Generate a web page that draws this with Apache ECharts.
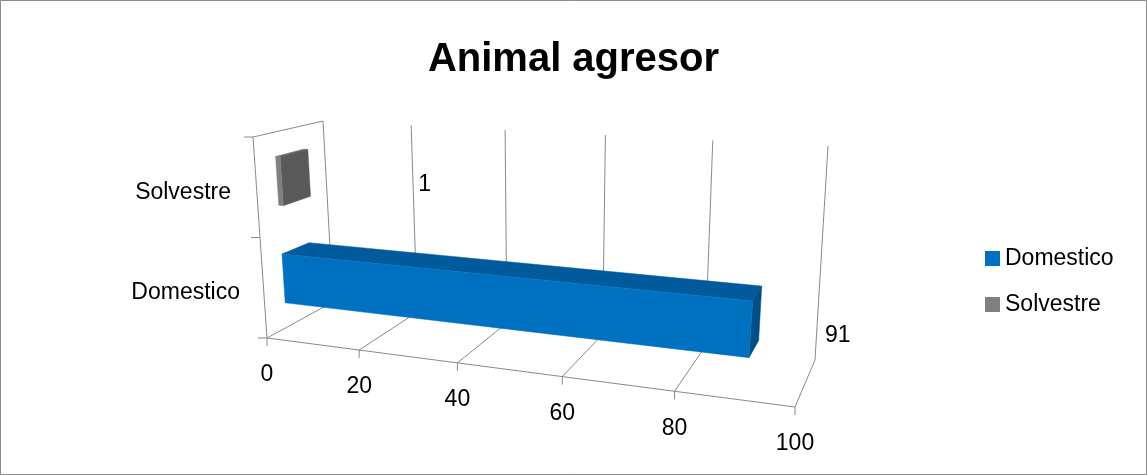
<!DOCTYPE html>
<html>
<head>
<meta charset="utf-8">
<script src="https://cdn.jsdelivr.net/npm/echarts@6/dist/echarts.min.js"></script>
<style>
html,body{margin:0;padding:0;background:#fff;}
#chart{width:1147px;height:475px;}
</style>
</head>
<body>
<div id="chart"></div>
<script>
// ---- data ----
const categories = ['Domestico', 'Solvestre'];
const seriesNames = ['Domestico', 'Solvestre'];
const domesticoValues = [91];
const solvestreValues = [1];
const xTicks = [0, 20, 40, 60, 80, 100];

// ---- styles ----
const FONT = 'Liberation Sans';
const TXT = 23;
const GRID_COLOR = '#8a8a8a';
const FORESHORTEN = 0.846;
const BAR_FRACTION = 0.5;
const DEPTH = [0.3, 0.7];
const palettes = {
  Domestico: { front: '#0070C0', top: '#005A9B', end: '#004E87' },
  Solvestre: { front: '#808080', top: '#6b6b6b', end: '#595959' }
};
const labelShift = { Domestico: [87, 6], Solvestre: [143, 3] };

function lerp(a, b, t) { return [a[0] + (b[0] - a[0]) * t, a[1] + (b[1] - a[1]) * t]; }

// pseudo-3D box projection anchored on the cartesian grid rect
function makeProj(cs) {
  const x0 = cs.x, x1 = cs.x + cs.width, y0 = cs.y, y1 = cs.y + cs.height;
  const c000 = [x0, y1], c100 = [x1, y1 + 69];
  const c010 = [x0 + 66, y1 - 36], c110 = [x1 + 20, y1 + 22];
  const c001 = [x0 - 14, y0], c101 = [x1 + 20, y0 + 32];
  const c011 = [x0 + 56, y0 - 16], c111 = [x1 + 33, y0 + 9];
  return function (u, d, h) {
    const t = u * FORESHORTEN / (1 + u * (FORESHORTEN - 1));
    const b0 = lerp(c000, c100, t), b1 = lerp(c010, c110, t);
    const t0 = lerp(c001, c101, t), t1 = lerp(c011, c111, t);
    return lerp(lerp(b0, b1, d), lerp(t0, t1, d), h);
  };
}

function line(a, b) {
  return { type: 'line', silent: true,
    shape: { x1: a[0], y1: a[1], x2: b[0], y2: b[1] },
    style: { stroke: GRID_COLOR, lineWidth: 1 } };
}
function text(str, p, align) {
  return { type: 'text', silent: true, x: p[0], y: p[1],
    style: { text: str, fill: '#000', fontSize: TXT, fontFamily: FONT,
      align: align || 'center', verticalAlign: 'middle' } };
}

function renderFrame(params, api) {
  const cs = params.coordSys;
  const P = makeProj(cs);
  const v = api.value(0);
  const u = (api.coord([v, 0])[0] - cs.x) / cs.width;
  const ch = [];
  const f = P(u, 0, 0);
  ch.push(line(f, P(u, 1, 0)));
  ch.push(line(P(u, 1, 0), P(u, 1, 1)));
  ch.push(line(f, [f[0], f[1] + 8]));
  ch.push(text(String(v), [f[0], f[1] + 37]));
  if (params.dataIndex === 0) {
    ch.push(line(P(0, 0, 0), P(1, 0, 0)));
    ch.push(line(P(0, 0, 0), P(0, 0, 1)));
    ch.push(line(P(0, 0, 1), P(0, 1, 1)));
    for (let i = 0; i <= categories.length; i++) {
      const q = P(0, 0, i / categories.length);
      ch.push(line(q, [q[0] - 9, q[1]]));
    }
  }
  return { type: 'group', children: ch };
}

function makeBarRenderer(name) {
  const pal = palettes[name];
  return function (params, api) {
    const cs = params.coordSys;
    const P = makeProj(cs);
    const v = api.value(0), ci = api.value(1);
    const pEnd = api.coord([v, ci]);
    const pStart = api.coord([0, ci]);
    const u0 = (pStart[0] - cs.x) / cs.width;
    const u1 = (pEnd[0] - cs.x) / cs.width;
    const hc = (cs.y + cs.height - pEnd[1]) / cs.height;
    const hh = BAR_FRACTION * api.size([0, 1])[1] / 2 / cs.height;
    const d0 = DEPTH[0], d1 = DEPTH[1], h0 = hc - hh, h1 = hc + hh;
    const poly = (pts, fill) => ({ type: 'polygon', shape: { points: pts },
      style: { fill: fill, stroke: fill, lineWidth: 0.5 } });
    const lp = P(u1, d0, hc);
    const sh = labelShift[name];
    return { type: 'group', children: [
      poly([P(u0, d0, h1), P(u1, d0, h1), P(u1, d1, h1), P(u0, d1, h1)], pal.top),
      poly([P(u1, d0, h0), P(u1, d1, h0), P(u1, d1, h1), P(u1, d0, h1)], pal.end),
      poly([P(u0, d0, h0), P(u1, d0, h0), P(u1, d0, h1), P(u0, d0, h1)], pal.front),
      text(String(v), [lp[0] + sh[0], lp[1] + sh[1]])
    ] };
  };
}

const chart = echarts.init(document.getElementById('chart'));
chart.setOption({
  animation: false,
  backgroundColor: '#fff',
  title: {
    text: 'Animal agresor', left: 'center', top: 35,
    textStyle: { fontSize: 40, fontWeight: 'bold', color: '#000', fontFamily: FONT }
  },
  legend: {
    data: seriesNames, orient: 'vertical', left: 985, top: 247, padding: 0,
    itemWidth: 15, itemHeight: 15, itemGap: 23, icon: 'rect',
    textStyle: { fontSize: TXT, color: '#000', fontFamily: FONT }
  },
  grid: { left: 267, right: 352, top: 137, bottom: 137 },
  xAxis: { type: 'value', min: 0, max: 100, interval: 20, show: false },
  yAxis: {
    type: 'category', data: categories,
    axisLine: { show: false }, axisTick: { show: false }, splitLine: { show: false },
    axisLabel: {
      margin: 27, color: '#000', fontSize: TXT, fontFamily: FONT,
      formatter: (val) => val === 'Solvestre' ? '{s|' + val + '}' : '{d|' + val + '}',
      rich: {
        d: { fontSize: TXT, fontFamily: FONT, color: '#000', padding: [10, 0, 0, 0] },
        s: { fontSize: TXT, fontFamily: FONT, color: '#000', padding: [10, 9, 0, 0] }
      }
    }
  },
  graphic: [{
    type: 'rect', silent: true, z: 100,
    shape: { x: 0.5, y: 0.5, width: 1146, height: 474 },
    style: { fill: 'none', stroke: '#8a8a8a', lineWidth: 1 }
  }],
  series: [
    { name: 'frame', type: 'custom', z: 1, silent: true, encode: { x: 0, y: 1 },
      data: xTicks.map(v => [v, 0]), renderItem: renderFrame },
    { name: seriesNames[0], type: 'custom', z: 2, encode: { x: 0, y: 1 },
      itemStyle: { color: palettes.Domestico.front },
      data: domesticoValues.map(v => [v, categories.indexOf('Domestico')]),
      renderItem: makeBarRenderer('Domestico') },
    { name: seriesNames[1], type: 'custom', z: 2, encode: { x: 0, y: 1 },
      itemStyle: { color: palettes.Solvestre.front },
      data: solvestreValues.map(v => [v, categories.indexOf('Solvestre')]),
      renderItem: makeBarRenderer('Solvestre') }
  ]
});
</script>
</body>
</html>
